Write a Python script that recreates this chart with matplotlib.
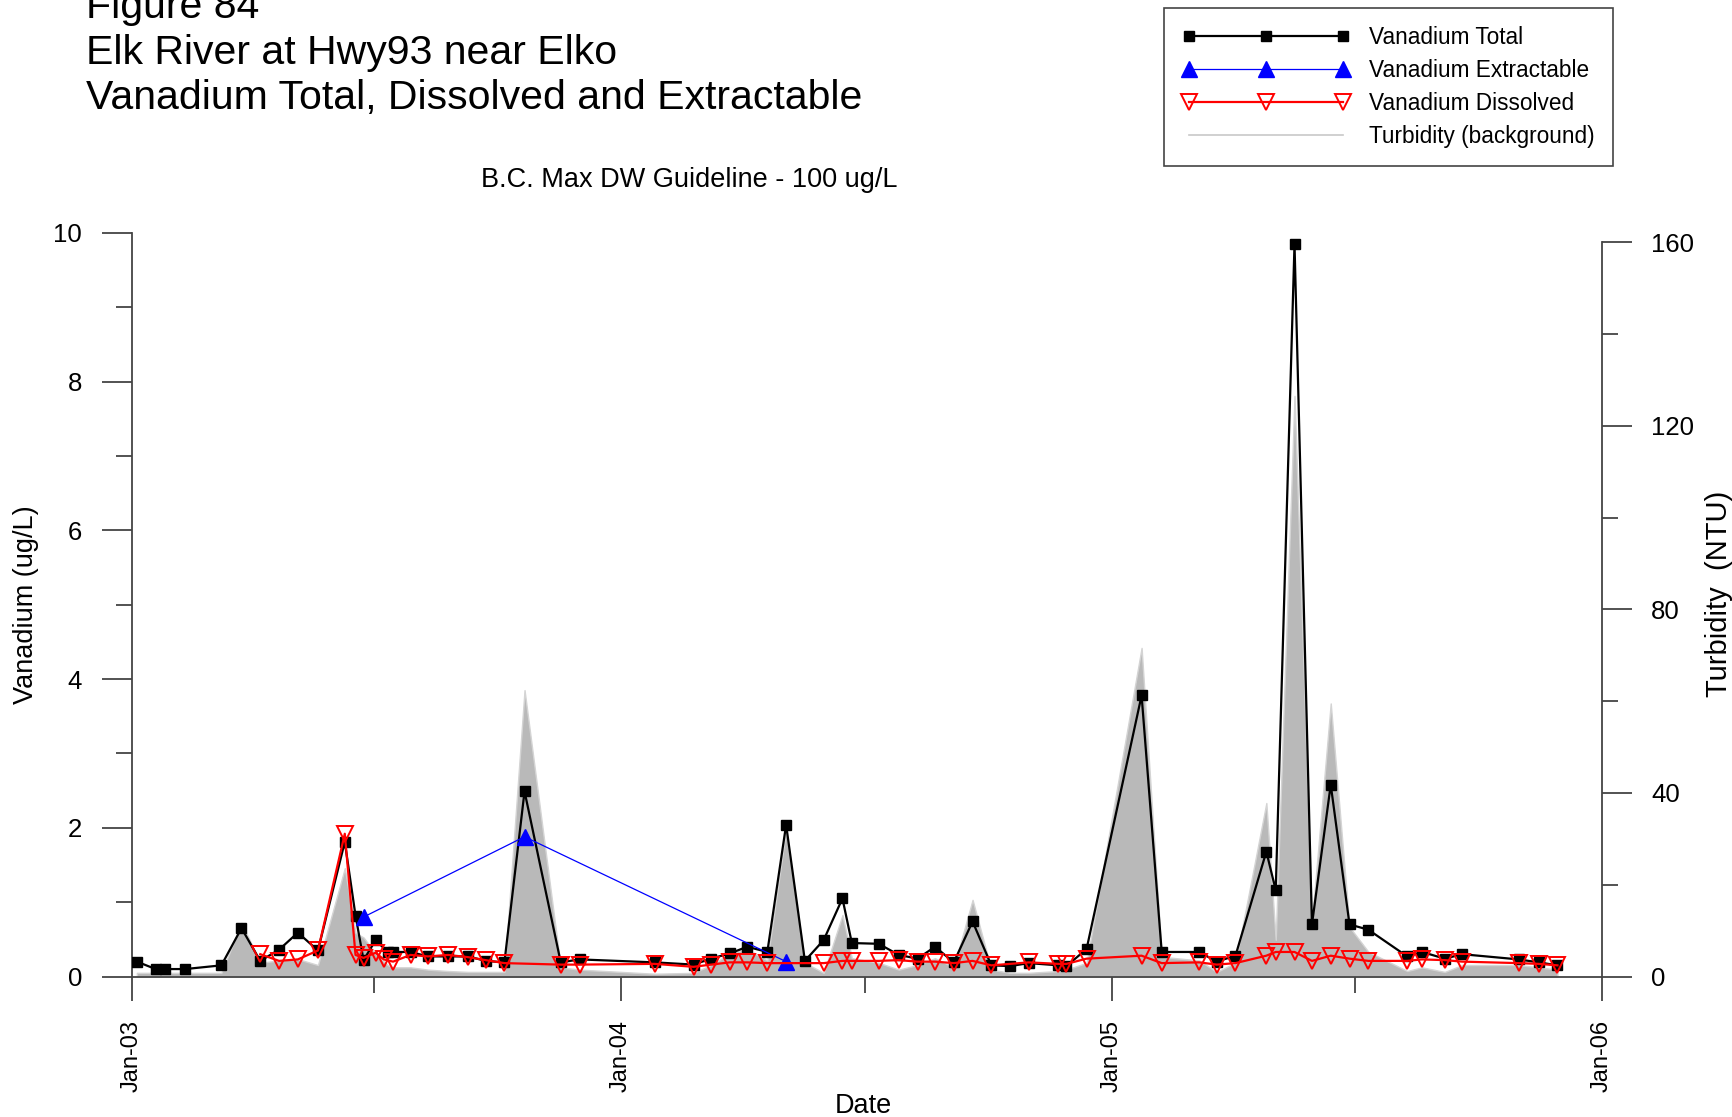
import numpy as np
import pandas as pd
import matplotlib
matplotlib.use('Agg')
import matplotlib.pyplot as plt
import matplotlib.dates as mdates
from matplotlib.lines import Line2D
from matplotlib.ticker import MultipleLocator

plt.rcParams['font.family'] = ['Liberation Sans', 'DejaVu Sans']

# Vanadium total (ug/L) and turbidity (NTU) share sampling dates
total_dates = [
    '2003-01-05', '2003-01-19', '2003-01-26', '2003-02-10', '2003-03-09', '2003-03-24',
    '2003-04-07', '2003-04-21', '2003-05-05', '2003-05-20', '2003-06-09', '2003-06-17',
    '2003-06-23', '2003-07-02', '2003-07-11', '2003-07-15', '2003-07-28', '2003-08-10',
    '2003-08-25', '2003-09-09', '2003-09-22', '2003-10-06', '2003-10-21', '2003-11-17',
    '2003-12-01', '2004-01-26', '2004-02-24', '2004-03-08', '2004-03-22', '2004-04-04',
    '2004-04-19', '2004-05-03', '2004-05-17', '2004-05-31', '2004-06-14', '2004-06-21',
    '2004-07-11', '2004-07-26', '2004-08-09', '2004-08-22', '2004-09-05', '2004-09-19',
    '2004-10-03', '2004-10-17', '2004-10-31', '2004-11-22', '2004-11-28', '2004-12-13',
    '2005-01-23', '2005-02-07', '2005-03-07', '2005-03-20', '2005-04-03', '2005-04-26',
    '2005-05-03', '2005-05-17', '2005-05-30', '2005-06-13', '2005-06-27', '2005-07-11',
    '2005-08-09', '2005-08-20', '2005-09-06', '2005-09-19', '2005-10-31', '2005-11-15',
    '2005-11-29',
]
total_vals = [
    0.20, 0.10, 0.10, 0.10, 0.15, 0.65,
    0.21, 0.36, 0.59, 0.35, 1.81, 0.82,
    0.22, 0.49, 0.33, 0.33, 0.33, 0.27,
    0.27, 0.27, 0.21, 0.19, 2.49, 0.19,
    0.23, 0.19, 0.16, 0.24, 0.31, 0.40,
    0.33, 2.04, 0.21, 0.49, 1.05, 0.45,
    0.44, 0.29, 0.24, 0.40, 0.19, 0.74,
    0.15, 0.14, 0.18, 0.15, 0.14, 0.37,
    3.78, 0.33, 0.33, 0.20, 0.28, 1.68,
    1.16, 9.85, 0.70, 2.58, 0.70, 0.63,
    0.27, 0.33, 0.24, 0.30, 0.23, 0.19,
    0.15,
]
turb_vals = [
    0.8, 0.8, 0.8, 0.8, 0.8, 11.7,
    3.0, 3.5, 3.8, 2.5, 23.6, 9.5,
    8.5, 5.0, 2.5, 2.0, 2.0, 1.5,
    1.2, 1.0, 1.0, 1.0, 62.4, 2.0,
    1.5, 0.6, 0.8, 2.5, 5.0, 6.0,
    3.5, 32.0, 3.0, 0.8, 13.4, 4.0,
    3.0, 1.5, 2.5, 4.0, 2.0, 16.7,
    1.5, 0.8, 0.8, 1.2, 1.5, 3.0,
    71.6, 4.3, 3.5, 1.0, 3.0, 37.8,
    8.0, 126.5, 12.0, 59.5, 10.8, 5.4,
    1.2, 2.0, 1.0, 2.5, 2.5, 2.0,
    1.5,
]

diss_dates = [
    '2003-04-07', '2003-04-21', '2003-05-05', '2003-05-20', '2003-06-09', '2003-06-17',
    '2003-06-23', '2003-07-02', '2003-07-08', '2003-07-15', '2003-07-28', '2003-08-10',
    '2003-08-25', '2003-09-09', '2003-09-22', '2003-10-06', '2003-11-17', '2003-12-01',
    '2004-01-26', '2004-02-24', '2004-03-08', '2004-03-22', '2004-04-04', '2004-04-19',
    '2004-05-31', '2004-06-14', '2004-06-21', '2004-07-11', '2004-07-26', '2004-08-09',
    '2004-08-22', '2004-09-05', '2004-09-19', '2004-10-03', '2004-10-31', '2004-11-22',
    '2004-11-28', '2004-12-13', '2005-01-23', '2005-02-07', '2005-03-07', '2005-03-20',
    '2005-04-03', '2005-04-26', '2005-05-03', '2005-05-17', '2005-05-30', '2005-06-13',
    '2005-06-27', '2005-07-11', '2005-08-09', '2005-08-20', '2005-09-06', '2005-09-19',
    '2005-10-31', '2005-11-15', '2005-11-29',
]
diss_vals = [
    0.30, 0.21, 0.23, 0.35, 1.92, 0.29,
    0.25, 0.32, 0.23, 0.20, 0.29, 0.27,
    0.29, 0.26, 0.22, 0.18, 0.16, 0.16,
    0.17, 0.13, 0.16, 0.19, 0.19, 0.18,
    0.18, 0.21, 0.21, 0.21, 0.22, 0.20,
    0.20, 0.18, 0.21, 0.15, 0.19, 0.17,
    0.17, 0.24, 0.28, 0.18, 0.19, 0.16,
    0.18, 0.28, 0.33, 0.33, 0.21, 0.28,
    0.24, 0.21, 0.21, 0.23, 0.22, 0.20,
    0.18, 0.17, 0.15,
]

ext_dates = ['2003-06-23', '2003-10-21', '2004-05-03']
ext_vals = [0.80, 1.88, 0.20]

title_lines = ['Figure 84', 'Elk River at Hwy93 near Elko',
               'Vanadium Total, Dissolved and Extractable']
subtitle = 'B.C. Max DW Guideline - 100 ug/L'

t_dates = pd.to_datetime(total_dates)
d_dates = pd.to_datetime(diss_dates)
e_dates = pd.to_datetime(ext_dates)

W, H = 1732, 1117
fig = plt.figure(figsize=(W / 100, H / 100), dpi=100)
ax_box = [131.5 / W, 1 - 976.5 / H, 1470.2 / W, 743.5 / H]
ax = fig.add_axes(ax_box)
ax2 = ax.twinx()

# turbidity in the background on the right axis
ax2.fill_between(t_dates, 0, turb_vals, facecolor='#b9b9b9', edgecolor='#d4d4d4',
                 linewidth=1.0)
ax2.set_ylim(0, 162)
ax.set_zorder(ax2.get_zorder() + 1)
ax.patch.set_visible(False)

ax.plot(t_dates, total_vals, color='black', lw=1.6, marker='s', ms=6.8,
        mfc='black', mec='black', zorder=3)
ax.plot(e_dates, ext_vals, color='blue', lw=0.9, marker='^', ms=11,
        mfc='blue', mec='blue', zorder=4)
ax.plot(d_dates, diss_vals, color='red', lw=1.6, marker='v', ms=11,
        mfc='none', mec='red', mew=1.4, zorder=5)

ax.set_xlim(pd.Timestamp('2003-01-01'), pd.Timestamp('2006-01-01'))
ax.set_ylim(0, 10)

spine_col = '#444444'
for a in (ax, ax2):
    a.spines['top'].set_visible(False)
    for s in ('left', 'right', 'bottom'):
        a.spines[s].set_color(spine_col)
        a.spines[s].set_linewidth(1.3)
ax.spines['right'].set_visible(False)
ax2.spines['left'].set_visible(False)
ax2.spines['bottom'].set_visible(False)
ax2.spines['right'].set_bounds(0, 160)

ax.xaxis.set_major_locator(mdates.YearLocator())
ax.xaxis.set_minor_locator(mdates.MonthLocator(bymonth=7))
ax.xaxis.set_major_formatter(mdates.DateFormatter('%b-%y'))
ax.tick_params(axis='x', which='major', direction='out', length=17, width=1.3,
               color=spine_col, labelsize=17, pad=14, labelrotation=90)
ax.tick_params(axis='x', which='minor', direction='out', length=11.5, width=1.3,
               color=spine_col)

ax.yaxis.set_major_locator(MultipleLocator(2))
ax.yaxis.set_minor_locator(MultipleLocator(1))
ax.tick_params(axis='y', which='major', direction='out', length=21.5, width=1.3,
               color=spine_col, labelsize=18.5, pad=14)
ax.tick_params(axis='y', which='minor', direction='out', length=11.5, width=1.3,
               color=spine_col)

ax2.yaxis.set_major_locator(MultipleLocator(40))
ax2.yaxis.set_minor_locator(MultipleLocator(20))
ax2.tick_params(axis='y', which='major', direction='out', length=21.5, width=1.3,
                color=spine_col, labelsize=18.5, pad=14)
ax2.tick_params(axis='y', which='minor', direction='out', length=11.5, width=1.3,
                color=spine_col)

ax.set_xlabel('Date', fontsize=19.5)
ax.xaxis.set_label_coords(0.498, -0.157)
ax.set_ylabel('Vanadium (ug/L)', fontsize=19.5)
ax.yaxis.set_label_coords(-0.063, 0.5)
ax2.set_ylabel('Turbidity  (NTU)', fontsize=21)
ax2.yaxis.set_label_coords(1.070, 0.515)

for i, line in enumerate(title_lines):
    fig.text(86 / W, 1 - (7.5 + 45.3 * i) / H, line, fontsize=29.5, ha='left', va='center')
fig.text(689 / W, 1 - 180 / H, subtitle, fontsize=19.5, ha='center', va='center')

handles = [
    Line2D([], [], color='black', lw=1.6, marker='s', ms=7, mfc='black', mec='black'),
    Line2D([], [], color='blue', lw=0.9, marker='^', ms=12, mfc='blue', mec='blue'),
    Line2D([], [], color='red', lw=1.6, marker='v', ms=12, mfc='none', mec='red', mew=1.4),
    Line2D([], [], color='#c8c8c8', lw=1.2),
]
labels = ['Vanadium Total', 'Vanadium Extractable', 'Vanadium Dissolved',
          'Turbidity (background)']
leg = fig.legend(handles, labels, loc='upper left',
                 bbox_to_anchor=(1164 / W, 1 - 7.7 / H), borderaxespad=0,
                 fontsize=16.3, numpoints=3, handlelength=7.4, handletextpad=0.85,
                 borderpad=0.8, labelspacing=0.45, fancybox=False, framealpha=1)
leg.get_frame().set_edgecolor('#444444')
leg.get_frame().set_linewidth(1.2)

fig.savefig('out.png', dpi=100, facecolor='white')
